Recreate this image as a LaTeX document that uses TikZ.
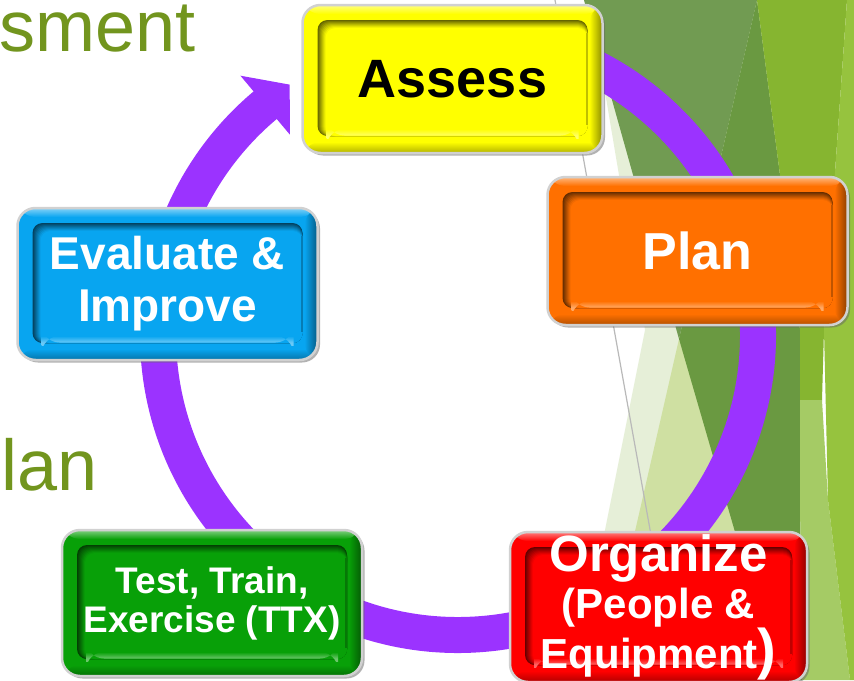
\documentclass[tikz,border=0pt]{standalone}
\usepackage{fontspec}
\setmainfont{Liberation Sans}
\usetikzlibrary{calc,shadows}
\definecolor{ringpurple}{RGB}{155,51,255}
\definecolor{titlegreen}{RGB}{114,149,30}
\definecolor{cyellow}{RGB}{255,255,0}
\definecolor{corange}{RGB}{255,112,0}
\definecolor{cred}{RGB}{255,0,0}
\definecolor{cgreen}{RGB}{8,160,8}
\definecolor{cblue}{RGB}{8,165,240}
\definecolor{bgmuted}{RGB}{113,155,82}
\definecolor{bgdark}{RGB}{106,153,65}
\definecolor{bgbright}{RGB}{134,181,48}
\definecolor{bglime}{RGB}{150,195,62}
\definecolor{bglight}{RGB}{165,203,101}
\definecolor{bgpale}{RGB}{230,239,216}
\definecolor{bgmid}{RGB}{207,224,162}
\definecolor{bgline}{RGB}{185,185,185}
\tikzset{
  bevelbox/.style={
    rectangle, rounded corners=18pt, minimum width=300pt, minimum height=148pt,
    inner sep=0pt, fill=#1, draw=black!18, line width=2.5pt,
    drop shadow={shadow xshift=2.5pt, shadow yshift=-2.5pt, fill=black!60},
    align=center, text=white,
    path picture={
      \coordinate (pnw) at (path picture bounding box.north west);
      \coordinate (pse) at (path picture bounding box.south east);
      \coordinate (pne) at (path picture bounding box.north east);
      \coordinate (psw) at (path picture bounding box.south west);
      \shade[top color=#1!50!white, bottom color=#1] (pnw) rectangle ($(pne)+(0,-9)$);
      \shade[top color=#1, bottom color=#1!70!black] ($(psw)+(0,11)$) rectangle (pse);
      \shade[left color=#1, right color=#1!55!black] ($(pne)+(-13,0)$) rectangle (pse);
      \foreach \k/\m in {0/40,1/48,2/56,3/64,4/72,5/80,6/88,7/95,8/100} {
        \fill[#1!\m!black, rounded corners=10pt] ($(pnw)+(15+\k,-15-\k)$) rectangle ($(pse)+(-15,17)$);
      }
      \shade[top color=#1, bottom color=#1!60!white] ($(psw)+(24,24)$) rectangle ($(pse)+(-24,17.5)$);
      \draw[#1!75!black, line width=2pt] ($(pne)+(-16,-28)$) -- ($(pse)+(-16,28)$);
    }
  },
  titletext/.style={text=titlegreen, inner sep=0pt, font=\fontsize{72}{80}\selectfont}
}
\begin{document}
\begin{tikzpicture}[x=1pt,y=1pt]
\useasboundingbox (0,0) rectangle (854,-680);
\fill[white] (0,0) rectangle (854,-680);
% background facets
\fill[bgpale] (584,0) -- (602,-74) -- (645,-330) -- (575,-680) -- (800,-680) -- (800,0) -- cycle;
\fill[bgmid] (679,-339) -- (601,-680) -- (790,-680) -- cycle;
\fill[bgmuted] (584,0) -- (757,0) -- (679,-339) -- cycle;
\fill[bgdark] (757,0) -- (780,-175) -- (800,-330) -- (800,-500) -- (802,-680) -- (778,-680) -- (679,-339) -- cycle;
\fill[bgbright] (757,0) -- (847,0) -- (824,-330) -- (822,-400) -- (800,-400) -- (800,-330) -- (780,-175) -- cycle;
\fill[bglight] (800,-400) -- (822,-400) -- (828,-500) -- (850,-680) -- (802,-680) -- (800,-500) -- cycle;
\fill[bglime] (847,0) -- (854,0) -- (854,-680) -- (850,-680) -- (828,-500) -- (824,-330) -- cycle;
\coordinate (lineA) at (555,0);
\coordinate (lineB) at (651,-535);
\draw[bgline, line width=1.2pt] (lineA) -- (lineB);
% title fragments
\node[titletext, anchor=base west] (t1) at (-1,-51) {sment};
\node[titletext, anchor=base west] (t2) at (1,-490) {lan};
% cycle ring
\coordinate (C) at (458,-335);
\draw[ringpurple, line width=36pt] ($(C)+(95:300)$) arc[start angle=95, end angle=-230.5, radius=300];
\coordinate (tipbase) at ($(C)+(130:300)$);
\fill[ringpurple] ($(C)+(130:338.5)$) -- ($(tipbase)+(40:32)$) -- ($(C)+(130:261.5)$) -- cycle;
% boxes
\node[bevelbox=cyellow, text=black, font=\bfseries\fontsize{54}{60}\selectfont] (assess) at (452.5,-79) {Assess};
\node[bevelbox=corange, font=\bfseries\fontsize{52}{58}\selectfont] (plan) at (697.5,-251) {Plan};
\node[bevelbox=cblue, minimum height=152pt, font=\bfseries\fontsize{46}{52}\selectfont] (evaluate) at (167.5,-284) {Evaluate \&\\Improve};
\node[bevelbox=cgreen, minimum height=146pt, font=\bfseries\fontsize{37}{39}\selectfont] (ttx) at (212,-603) {Test, Train,\\Exercise (TTX)};
\node[bevelbox=cred, minimum width=297pt, minimum height=150pt, font=\bfseries\fontsize{42}{47}\selectfont] (organize) at (658.5,-607) {{\fontsize{51}{47}\selectfont Organize}\\(People \&\\Equipment{\fontsize{56}{47}\selectfont )}};
\end{tikzpicture}
\end{document}
